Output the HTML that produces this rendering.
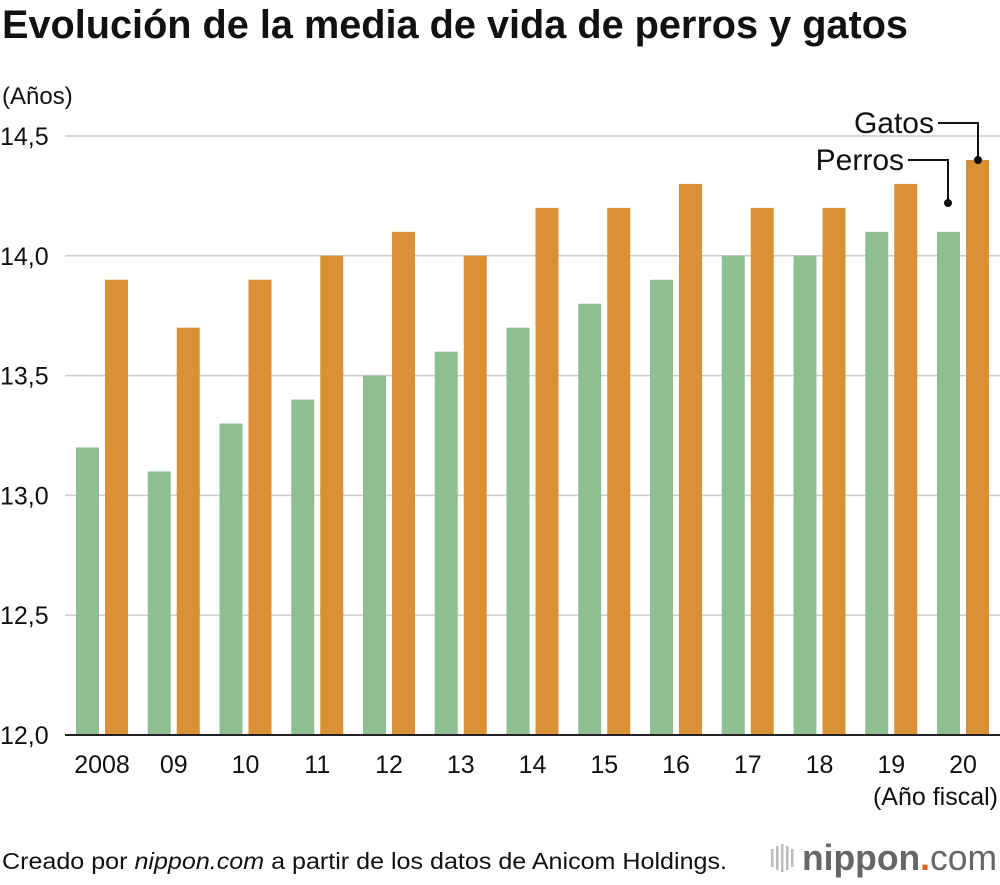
<!DOCTYPE html>
<html><head><meta charset="utf-8">
<style>
body{margin:0;background:#fff;width:1000px;height:880px;overflow:hidden;font-family:"Liberation Sans",sans-serif;}
svg text{font-family:"Liberation Sans",sans-serif;}
</style></head>
<body>
<svg id="chart" width="1000" height="880" xmlns="http://www.w3.org/2000/svg">
<text x="2" y="38" font-size="39.5" font-weight="bold" fill="#111" textLength="906" lengthAdjust="spacingAndGlyphs">Evolución de la media de vida de perros y gatos</text>
<text x="2" y="104" font-size="24" fill="#111">(Años)</text>
<g id="grid"></g>
<g id="bars"></g>
<g id="xlabels"></g>
<text x="998" y="805" font-size="25" text-anchor="end" fill="#111">(Año fiscal)</text>
<g>
<text x="934" y="133" font-size="30" text-anchor="end" fill="#111">Gatos</text>
<polyline points="938,123 978,123 978,160" fill="none" stroke="#111" stroke-width="2"/>
<circle cx="978" cy="160" r="4" fill="#111"/>
</g>
<g>
<text x="904" y="170" font-size="30" text-anchor="end" fill="#111">Perros</text>
<polyline points="908,160 948,160 948,203" fill="none" stroke="#111" stroke-width="2"/>
<circle cx="948" cy="203" r="4" fill="#111"/>
</g>
<text x="2" y="869" font-size="23" fill="#111" textLength="725" lengthAdjust="spacingAndGlyphs">Creado por <tspan font-style="italic">nippon.com</tspan> a partir de los datos de Anicom Holdings.</text>
<g>
<g fill="#bbb"><rect x="771" y="849" width="2.5" height="18"/><rect x="776" y="846" width="2.5" height="24"/><rect x="781" y="844" width="2.5" height="28"/><rect x="786" y="846" width="2.5" height="24"/><rect x="791" y="849" width="2.5" height="18"/></g>
<text x="802" y="870" font-size="36" font-weight="bold" fill="#666" textLength="195" lengthAdjust="spacingAndGlyphs">nippon<tspan fill="#e2601b">.</tspan><tspan font-weight="normal">com</tspan></text>
</g>
</svg>
<script>
const years=["2008","09","10","11","12","13","14","15","16","17","18","19","20"];
const dogs=[13.2,13.1,13.3,13.4,13.5,13.6,13.7,13.8,13.9,14.0,14.0,14.1,14.1];
const cats=[13.9,13.7,13.9,14.0,14.1,14.0,14.2,14.2,14.3,14.2,14.2,14.3,14.4];
const yTicks=[12.0,12.5,13.0,13.5,14.0,14.5];
const yTickLabels=["12,0","12,5","13,0","13,5","14,0","14,5"];
const NS="http://www.w3.org/2000/svg";
const y=v=>735-(v-12)*239.6;
const xg=i=>76+i*71.75;
const grid=document.getElementById('grid'),bars=document.getElementById('bars'),xl=document.getElementById('xlabels');
yTicks.forEach((t,i)=>{
 const l=document.createElementNS(NS,'line');
 
 
 l.setAttribute('x1',65);l.setAttribute('x2',1000);l.setAttribute('y1',y(t));l.setAttribute('y2',y(t));
 l.setAttribute('stroke',i===0?'#222':'#ccc');l.setAttribute('stroke-width',i===0?2:1.5);
 grid.appendChild(l);
 const tx=document.createElementNS(NS,'text');
 
 
 tx.setAttribute('x',0);tx.setAttribute('y',y(t)+9);tx.setAttribute('font-size',25);tx.setAttribute('fill','#111');
 tx.textContent=yTickLabels[i];grid.appendChild(tx);
});
years.forEach((yr,i)=>{
 [[dogs[i],'#8dbf92',0,'bar-perros'],[cats[i],'#da9035',29,'bar-gatos']].forEach(([v,c,off,n])=>{
  const r=document.createElementNS(NS,'rect');
  
  
  r.setAttribute('x',xg(i)+off);r.setAttribute('width',23);
  r.setAttribute('y',y(v));r.setAttribute('height',734-y(v));r.setAttribute('fill',c);
  bars.appendChild(r);
 });
 const t=document.createElementNS(NS,'text');
 
 
 t.setAttribute('x',xg(i)+26);t.setAttribute('y',773);t.setAttribute('font-size',25);
 t.setAttribute('text-anchor','middle');t.setAttribute('fill','#111');
 t.textContent=yr;xl.appendChild(t);
});
</script>
</body></html>
